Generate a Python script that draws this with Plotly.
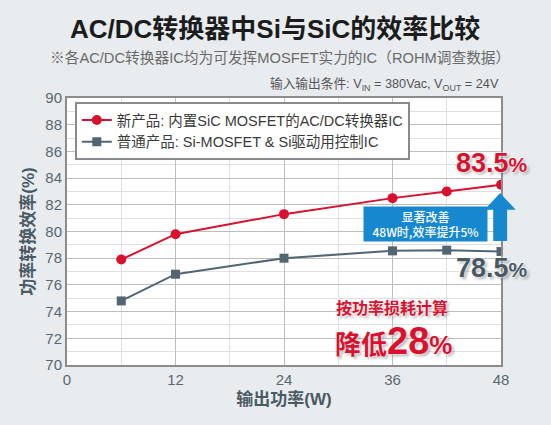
import plotly.graph_objects as go

# 数据
power_w = [6, 12, 24, 36, 42, 48]
sic_eff = [77.9, 79.8, 81.3, 82.5, 83.0, 83.5]
si_eff = [74.8, 76.8, 78.0, 78.55, 78.6, 78.5]

x_ticks = [0, 12, 24, 36, 48]
y_ticks = list(range(70, 91, 2))

sic_name = "新产品: 内置SiC MOSFET的AC/DC转换器IC"
si_name = "普通产品: Si-MOSFET & Si驱动用控制IC"

FONT = "Liberation Sans, Arial, Noto Sans CJK SC"
RED = "#d9112f"
GREY_BLUE = "#526672"
BLUE = "#1688d0"
BG = "#e8ecef"

fig = go.Figure()

fig.add_trace(go.Scatter(
    x=power_w, y=sic_eff, name=sic_name, mode="lines+markers",
    line=dict(color=RED, width=2),
    marker=dict(symbol="circle", size=10, color=RED),
))
fig.add_trace(go.Scatter(
    x=power_w, y=si_eff, name=si_name, mode="lines+markers",
    line=dict(color=GREY_BLUE, width=2),
    marker=dict(symbol="square", size=9, color=GREY_BLUE),
))

fig.update_layout(
    width=551, height=425,
    margin=dict(l=67, r=50, t=98, b=60),
    paper_bgcolor=BG,
    plot_bgcolor="white",
    font=dict(family=FONT, color="#5b6770"),
    showlegend=True,
    legend=dict(
        x=0.018, y=0.985, xanchor="left", yanchor="top",
        bgcolor="white", bordercolor="#8a8a8a", borderwidth=2,
        font=dict(size=14.5, color="#3a3a3a"),
        tracegroupgap=0, itemwidth=30,
    ),
)

fig.update_xaxes(
    range=[0, 48], tickvals=x_ticks, tickfont=dict(size=15, color="#5b6770"),
    showgrid=True, gridcolor="#bdbdbd", gridwidth=1,
    minor=dict(dtick=6, showgrid=True, gridcolor="#e0e0e0"),
    showline=True, linecolor="#8c8c8c", linewidth=2, mirror=True,
    zeroline=False, ticks="",
    title=dict(text="<b>输出功率(W)</b>", font=dict(size=17, color="#4a5a64"), standoff=6),
)
fig.update_yaxes(
    range=[70, 90], tickvals=y_ticks, tickfont=dict(size=15, color="#5b6770"),
    showgrid=True, gridcolor="#bdbdbd", gridwidth=1,
    minor=dict(dtick=1, showgrid=True, gridcolor="#e0e0e0"),
    showline=True, linecolor="#8c8c8c", linewidth=2, mirror=True,
    zeroline=False, ticks="",
    title=dict(text="<b>功率转换效率(%)</b>", font=dict(size=17, color="#4a5a64"), standoff=6),
)

# 标题 / 副标题 / 条件
fig.add_annotation(
    text="<b>AC/DC转换器中Si与SiC的效率比较</b>", xref="paper", yref="paper",
    x=0.48, y=1.26, xanchor="center", yanchor="middle",
    showarrow=False, font=dict(size=26, color="#1c1c1c"),
)
fig.add_annotation(
    text="※各AC/DC转换器IC均为可发挥MOSFET实力的IC（ROHM调查数据）", xref="paper", yref="paper",
    x=0.49, y=1.15, xanchor="center", yanchor="middle",
    showarrow=False, font=dict(size=14.7, color="#6a6a6a"),
)
fig.add_annotation(
    text="输入输出条件: V<sub>IN</sub> = 380Vac, V<sub>OUT</sub> = 24V", xref="paper", yref="paper",
    x=1.0, y=1.049, xanchor="right", yanchor="middle",
    showarrow=False, font=dict(size=12.7, color="#555"),
)

# 箭头
fig.add_shape(
    type="path", xref="paper", yref="paper",
    path="M 0.998 0.644 L 1.034 0.581 L 1.014 0.581 L 1.014 0.464 "
         "L 0.982 0.464 L 0.982 0.581 L 0.962 0.581 Z",
    fillcolor=BLUE, line=dict(width=0), layer="above",
)

shadow = "0px 0px 2px #fff, 0px 0px 3px #fff, 2px 2px 3px rgba(0,0,0,0.35)"

fig.add_annotation(
    text="<b>83.5<span style='font-size:21px'>%</span></b>", x=47.0, y=85.13,
    xanchor="center", yanchor="middle",
    showarrow=False, font=dict(size=27, color=RED, shadow=shadow),
)
fig.add_annotation(
    text="<b>78.5<span style='font-size:21px'>%</span></b>", x=47.0, y=77.27,
    xanchor="center", yanchor="middle",
    showarrow=False, font=dict(size=27, color="#4a5a64", shadow=shadow),
)
fig.add_annotation(
    text="显著改善<br>48W时,效率提升5%", x=39.7, y=80.56,
    xanchor="center", yanchor="middle",
    showarrow=False, bgcolor=BLUE, borderpad=1, width=121, height=32,
    font=dict(size=12, color="white", family="Noto Sans CJK SC", weight=500),
)
fig.add_annotation(
    text="<b>按功率损耗计算</b>", x=35.9, y=74.27,
    xanchor="center", yanchor="middle",
    showarrow=False, font=dict(size=16, color=RED, shadow=shadow),
)
fig.add_annotation(
    text="<b>降低<span style='font-size:38px'>28</span>%</b>", x=36.1, y=71.8,
    xanchor="center", yanchor="middle",
    showarrow=False, font=dict(size=26, color=RED, shadow=shadow),
)

fig.write_html(
    "out.html",
    config={"displayModeBar": False},
    post_script="document.body.style.margin='0';",
)
